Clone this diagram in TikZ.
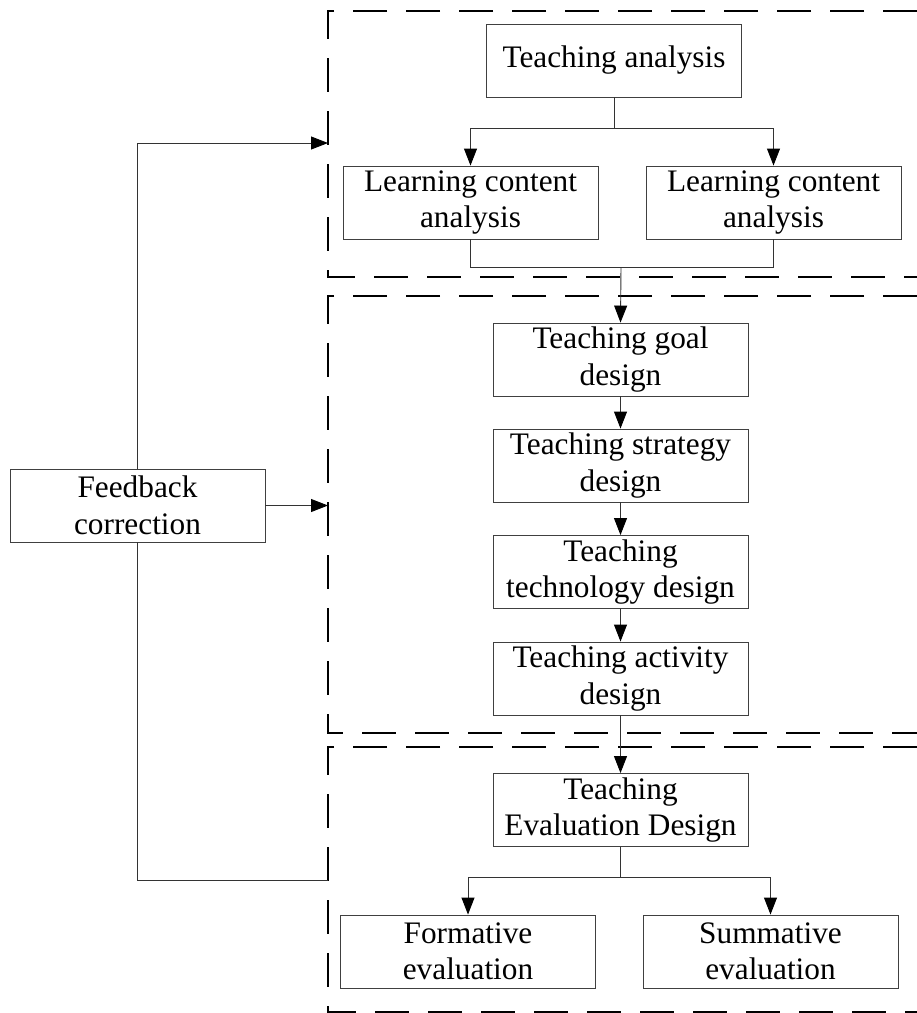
\documentclass[tikz,border=0pt]{standalone}
\usepackage{fontspec}
\setmainfont{Liberation Serif}
\usetikzlibrary{arrows.meta}
\begin{document}
\begin{tikzpicture}[x=1pt,y=-1pt,
  box/.style={draw=black!75, line width=0.9pt, rectangle, minimum width=255pt, minimum height=73pt,
    inner sep=0pt, align=center, font=\fontsize{31.3}{36.5}\selectfont},
  conn/.style={draw=black!80, line width=0.9pt},
  arr/.style={conn, -{Triangle[length=17pt,width=13pt,fill=black,color=black]}},
  dashbox/.style={draw=black, line width=2pt, dash pattern=on 34pt off 19pt, dash phase=10pt}]
\useasboundingbox (0,0) rectangle (917,1013);

% dashed group frames
\draw[dashbox] (960,11) -- (328,11) -- (328,277) -- (960,277);
\draw[dashbox] (960,296) -- (328,296) -- (328,733) -- (960,733);
\draw[dashbox] (960,747) -- (328,747) -- (328,1012) -- (960,1012);

% nodes
\node[box] (ta)   at (614,60.5)   {Teaching analysis};
\node[box] (lc1)  at (470.5,202.5) {Learning content\\analysis};
\node[box] (lc2)  at (773.5,202.5) {Learning content\\analysis};
\node[box] (goal) at (620.5,359.5) {Teaching goal\\design};
\node[box] (strat) at (620.5,465.5) {Teaching strategy\\design};
\node[box] (tech) at (620.5,572)   {Teaching\\technology design};
\node[box] (act)  at (620.5,678.5) {Teaching activity\\design};
\node[box] (eval) at (620.5,810)   {Teaching\\Evaluation Design};
\node[box] (form) at (468,951.5)   {Formative\\evaluation};
\node[box] (summ) at (770.5,951.5) {Summative\\evaluation};
\node[box] (fb)   at (137.5,505.5) {Feedback\\correction};

% coordinates
\coordinate (tj) at (614,128);
\coordinate (mj) at (621,267);
\coordinate (ej) at (620.5,877);
\coordinate (fbtop) at (328,143);
\coordinate (fbmid) at (328,505.5);
\coordinate (fbbot) at (328,880);

% connectors top group
\draw[conn] (ta.south) -- (tj);
\draw[arr] (tj) -| (lc1.north);
\draw[arr] (tj) -| (lc2.north);
\draw[conn] (lc1.south) |- (mj);
\draw[conn] (lc2.south) |- (mj);
\draw[arr] (mj) -- (goal.north);

% middle chain
\draw[arr] (goal) -- (strat);
\draw[arr] (strat) -- (tech);
\draw[arr] (tech) -- (act);
\draw[arr] (act) -- (eval);

% bottom group
\draw[conn] (eval.south) -- (ej);
\draw[arr] (ej) -| (form.north);
\draw[arr] (ej) -| (summ.north);

% feedback
\draw[arr] (fb.north) |- (fbtop);
\draw[arr] (fb.east) -- (fbmid);
\draw[conn] (fb.south) |- (fbbot);
\end{tikzpicture}
\end{document}
